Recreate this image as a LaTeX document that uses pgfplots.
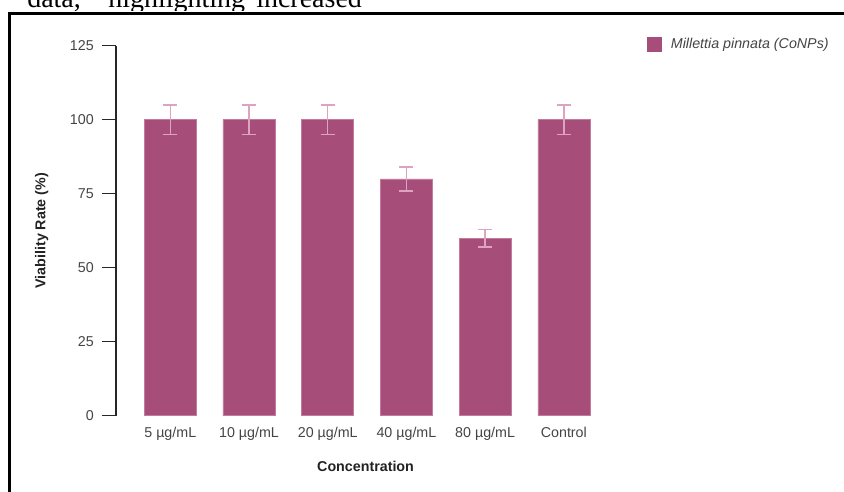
\documentclass[border=0pt]{standalone}
\usepackage{pgfplots}
\pgfplotsset{compat=1.18}
\usepackage{fontspec}
\setmainfont{Liberation Sans}
\newfontfamily\serifcut{Liberation Serif}
\definecolor{barc}{HTML}{A64D79}
\definecolor{baredge}{HTML}{C27A9E}
\definecolor{errc}{HTML}{DDA3C1}
\definecolor{txt}{HTML}{444444}
\definecolor{lab}{HTML}{222222}
\begin{document}
\begin{tikzpicture}
\useasboundingbox (0,0) rectangle (633pt,369pt);
% cut-off text from the surrounding page
\begin{scope}
\clip (0,361pt) rectangle (633pt,380pt);
\node[anchor=base west, inner sep=0pt, font=\serifcut\fontsize{21}{25}\selectfont] at (20.25pt,363.6pt) {data,};
\node[anchor=base west, inner sep=0pt, font=\serifcut\fontsize{21}{25}\selectfont] at (81pt,363.6pt) {highlighting};
\node[anchor=base west, inner sep=0pt, font=\serifcut\fontsize{21}{25}\selectfont] at (192pt,363.6pt) {increased};
\end{scope}
% frame
\draw[line width=2.25pt] (7.1pt,-5pt) -- (7.1pt,358.9pt) -- (645pt,358.9pt);
\begin{axis}[
  at={(87pt,57.2pt)}, anchor=south west,
  scale only axis, width=376.6pt, height=277.5pt,
  xmin=-0.69, xmax=5.69, ymin=0, ymax=125,
  axis lines*=left,
  x axis line style={draw=none},
  y axis line style={line width=0.9pt, color=black!85},
  ytick={0,25,50,75,100,125},
  xtick={0,1,2,3,4,5},
  xticklabels={5 µg/mL,10 µg/mL,20 µg/mL,40 µg/mL,80 µg/mL,Control},
  tick align=outside,
  major tick length=10.5pt,
  ytick style={line width=0.9pt, color=black!85},
  xtick style={draw=none},
  /pgf/number format/assume math mode=true,
  tick label style={font=\fontsize{10.7}{13}\selectfont, text=txt},
  yticklabel style={inner sep=0pt, xshift=-6pt},
  xticklabel style={inner sep=0pt, yshift=2.5pt},
  ylabel={\textbf{Viability Rate (\%)}},
  xlabel={\textbf{Concentration}},
  label style={font=\fontsize{10.7}{13}\selectfont, text=lab},
  ylabel style={at={(axis description cs:-0.148,0.5)}, anchor=center},
  xlabel style={at={(axis description cs:0.497,-0.137)}, anchor=center},
  legend style={draw=none, fill=none, at={(axis description cs:1.057,1.003)}, anchor=west, inner sep=0pt, font=\fontsize{10.7}{13}\selectfont\itshape, text=txt, legend cell align=left, /tikz/every odd column/.append style={column sep=5pt}},
  legend image code/.code={\fill[barc] (0pt,-5.25pt) rectangle (10.5pt,5.25pt);},
  clip=false,
]
\addplot[ybar, bar width=0.661, fill=barc, draw=baredge, line width=0.4pt,
  error bars/.cd, y dir=both, y explicit,
  error bar style={color=errc, line width=1.1pt},
  error mark options={color=errc, line width=1.1pt, mark size=5.25pt, rotate=90}]
  coordinates {
    (0,100) +- (0,5)
    (1,100) +- (0,5)
    (2,100) +- (0,5)
    (3,80) +- (0,4)
    (4,60) +- (0,3)
    (5,100) +- (0,5)
  };
\addlegendentry{Millettia pinnata (CoNPs)}
\end{axis}
\end{tikzpicture}
\end{document}
